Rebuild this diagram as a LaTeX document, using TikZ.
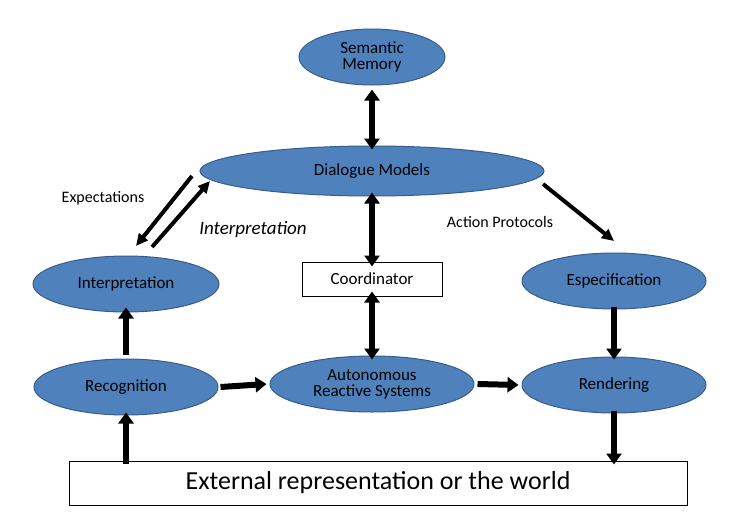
\documentclass[tikz,border=0pt]{standalone}
\usepackage{fontspec}
\setmainfont{Carlito}
\usetikzlibrary{shapes.geometric,arrows.meta}
\definecolor{ovalfill}{RGB}{79,129,189}
\definecolor{ovaldraw}{RGB}{56,93,138}
\tikzset{
  oval/.style={ellipse, draw=ovaldraw, fill=ovalfill, line width=1pt, inner sep=0pt, font=\fontsize{17}{18}\selectfont, align=center},
  plainbox/.style={rectangle, draw, line width=1pt, fill=white},
  fat/.style={line width=6pt, -{Triangle[width=15pt,length=11pt]}},
  fatboth/.style={line width=6pt, {Triangle[width=15pt,length=11pt]}-{Triangle[width=15pt,length=11pt]}},
  slim/.style={line width=4pt, -{Triangle[width=11pt,length=12pt]}},
  lbl/.style={font=\fontsize{16}{18}\selectfont}
}
\begin{document}
\begin{tikzpicture}[x=1pt,y=-1pt]
\useasboundingbox (0,0) rectangle (736,530);

\node[oval, minimum width=146pt, minimum height=56pt] (sem) at (372,57) {Semantic\\[-2pt]Memory};
\node[oval, minimum width=344pt, minimum height=50pt] (dlg) at (372,171) {Dialogue Models};
\node[oval, minimum width=186pt, minimum height=56pt] (int) at (126,284) {Interpretation};
\node[plainbox, minimum width=140pt, minimum height=34pt, font=\fontsize{17}{18}\selectfont] (crd) at (372,279) {Coordinator};
\node[oval, minimum width=184pt, minimum height=56pt] (esp) at (614,281) {Especification};
\node[oval, minimum width=184pt, minimum height=56pt] (rec) at (126,387) {Recognition};
\node[oval, minimum width=204pt, minimum height=56pt] (aut) at (372,384) {Autonomous\\[-2pt]Reactive Systems};
\node[oval, minimum width=184pt, minimum height=56pt] (ren) at (614,385) {Rendering};
\node[plainbox, minimum width=618pt, minimum height=44pt, font=\fontsize{26}{28}\selectfont] (ext) at (378,483) {External representation or the world};

% free ends of the slanted arrows
\coordinate (expS) at (192,176);
\coordinate (expE) at (136,246);
\coordinate (intS) at (152,247);
\coordinate (intE) at (210,181);
\coordinate (actS) at (543,184);
\coordinate (actE) at (614,241);

\node[lbl] (lexp) at (103,198) {Expectations};
\node[lbl, font=\fontsize{19}{20}\selectfont\itshape] (lint) at (253,229) {Interpretation};
\node[lbl] (lact) at (500,222) {Action Protocols};

\draw[fatboth] (sem.south) ++(0,4) -- ([yshift=-4pt]dlg.north);
\draw[fatboth] ([yshift=4pt]dlg.south) -- ([yshift=-5pt]crd.north);
\draw[fatboth] ([yshift=5pt]crd.south) -- ([yshift=-4pt]aut.north);
\draw[fat] (rec.east) ++(2,0) -- ([xshift=-3pt]aut.west);
\draw[fat] (aut.east) ++(3,0) -- ([xshift=-3pt]ren.west);
\draw[fat] ([yshift=4pt]rec.north) -- ([yshift=5pt]int.south);
\draw[fat] ([xshift=-252pt,yshift=-3pt]ext.north) -- ([yshift=3pt]rec.south);
\draw[fat] ([yshift=3pt]esp.south) -- ([yshift=-3pt]ren.north);
\draw[fat] ([yshift=3pt]ren.south) -- ([xshift=236pt,yshift=-4pt]ext.north);
\draw[slim] (expS) -- (expE);
\draw[slim] (intS) -- (intE);
\draw[slim] (actS) -- (actE);
\end{tikzpicture}
\end{document}
